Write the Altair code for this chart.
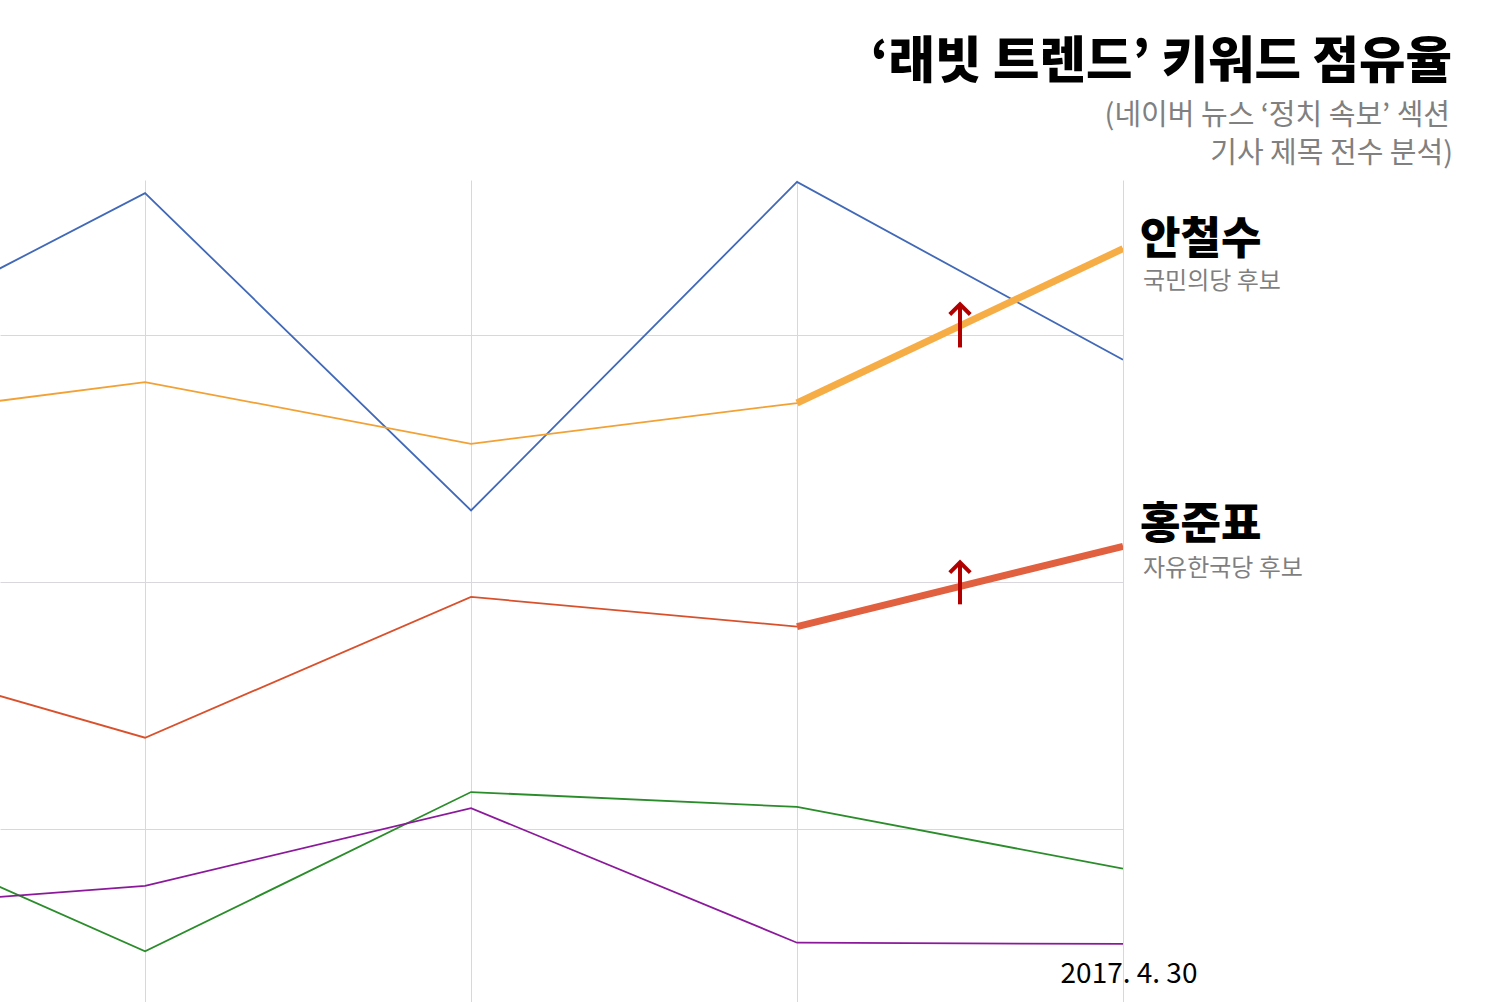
import altair as alt
import pandas as pd

# ---- data ----
periods = [0, 1, 2, 3, 4]
series_names = ["문재인", "안철수", "홍준표", "유승민", "심상정"]
blue = [28.9, 35.75, 22.9, 36.2, 29.0]
orange = [26.4, 28.1, 25.6, 27.25, 33.5]
red = [17.5, 13.7, 19.4, 18.2, 21.45]
green = [10.9, 5.05, 11.5, 10.9, 8.4]
purple = [6.7, 7.7, 10.85, 5.4, 5.35]
line_colors = ["#4169B8", "#F2A134", "#D9512C", "#2A8C2A", "#8B1A9B"]

thick_names = ["안철수", "홍준표"]
thick_colors = ["#F7AD45", "#E0603F"]

arrow_x = [3.5, 3.5]
arrow_y0 = [29.5, 19.1]
arrow_y1 = [31.25, 20.8]

label_names = ["안철수", "홍준표"]
label_subs = ["국민의당 후보", "자유한국당 후보"]

title_text = "‘래빗 트렌드’ 키워드 점유율"
subtitle_lines = ["(네이버 뉴스 ‘정치 속보’ 섹션", "기사 제목 전수 분석)"]
date_text = "2017. 4. 30"

FONT = "Noto Sans CJK KR"

# ---- tables ----
all_vals = [blue, orange, red, green, purple]
rows = []
for name, vals in zip(series_names, all_vals):
    for p, v in zip(periods, vals):
        rows.append({"series": name, "period": p, "value": v})
df = pd.DataFrame(rows)

thick_rows = []
for name in thick_names:
    vals = all_vals[series_names.index(name)]
    for p in periods[3:]:
        thick_rows.append({"series": name, "period": p, "value": vals[p]})
df_thick = pd.DataFrame(thick_rows)

df_arrow = pd.DataFrame({"x": arrow_x, "y0": arrow_y0, "y1": arrow_y1})

df_label = pd.DataFrame({
    "name": label_names,
    "sub": label_subs,
    "period": [periods[-1]] * 2,
    "value": [all_vals[series_names.index(n)][-1] for n in label_names],
})

xscale = alt.Scale(domain=[0.555, 4.0], nice=False, zero=False)
yscale = alt.Scale(domain=[3.0, 36.28], nice=False, zero=False)

xax = alt.Axis(values=[1, 2, 3, 4], grid=True, labels=False, ticks=False,
               domain=False, title=None, gridColor="#D9D6DE", gridWidth=1)
yax = alt.Axis(values=[10, 20, 30], grid=True, labels=False, ticks=False,
               domain=False, title=None, gridColor="#D9D6DE", gridWidth=1)

base_lines = alt.Chart(df).mark_line(clip=True, strokeWidth=1.8).encode(
    x=alt.X("period:Q", scale=xscale, axis=xax),
    y=alt.Y("value:Q", scale=yscale, axis=yax),
    color=alt.Color("series:N", scale=alt.Scale(domain=series_names, range=line_colors), legend=None),
    detail="series:N",
)

thick = alt.Chart(df_thick).mark_line(clip=True, strokeWidth=7, strokeCap="butt").encode(
    x=alt.X("period:Q", scale=xscale),
    y=alt.Y("value:Q", scale=yscale),
    color=alt.Color("series:N", scale=alt.Scale(domain=thick_names, range=thick_colors), legend=None),
    detail="series:N",
)

shaft = alt.Chart(df_arrow).mark_rule(color="#B00000", strokeWidth=4).encode(
    x=alt.X("x:Q", scale=xscale),
    y=alt.Y("y0:Q", scale=yscale),
    y2="y1:Q",
)
head = alt.Chart(df_arrow).mark_point(
    shape="M-1,1L0,0L1,1", size=420, filled=False, color="#B00000",
    strokeWidth=4, opacity=1,
).encode(
    x=alt.X("x:Q", scale=xscale),
    y=alt.Y("y1:Q", scale=yscale),
)

label_layers = []
name_dy = [5, -7]
sub_dy = [40, 30]
for i, n in enumerate(label_names):
    src = alt.Chart(df_label).transform_filter(alt.datum.name == n)
    label_layers.append(src.mark_text(
        align="left", baseline="alphabetic", font=FONT, fontSize=44,
        fontWeight=900, color="#000000", dx=17, dy=name_dy[i],
    ).encode(
        x=alt.X("period:Q", scale=xscale),
        y=alt.Y("value:Q", scale=yscale),
        text="name:N",
    ))
    label_layers.append(src.mark_text(
        align="left", baseline="alphabetic", font=FONT, fontSize=24,
        color="#7F7F7F", dx=20, dy=sub_dy[i],
    ).encode(
        x=alt.X("period:Q", scale=xscale),
        y=alt.Y("value:Q", scale=yscale),
        text="sub:N",
    ))

title = alt.Chart(pd.DataFrame({"t": [title_text]})).mark_text(
    align="right", baseline="alphabetic", font=FONT, fontSize=50.5,
    fontWeight=900, color="#000000",
).encode(x=alt.value(1452), y=alt.value(-102), text="t:N")

sub1 = alt.Chart(pd.DataFrame({"t": [subtitle_lines[0]]})).mark_text(
    align="right", baseline="alphabetic", font=FONT, fontSize=29, color="#808080",
).encode(x=alt.value(1450), y=alt.value(-55), text="t:N")

sub2 = alt.Chart(pd.DataFrame({"t": [subtitle_lines[1]]})).mark_text(
    align="right", baseline="alphabetic", font=FONT, fontSize=29, color="#808080",
).encode(x=alt.value(1453), y=alt.value(-17), text="t:N")

date = alt.Chart(pd.DataFrame({"t": [date_text]})).mark_text(
    align="center", baseline="alphabetic", font=FONT, fontSize=28, color="#000000",
).encode(x=alt.value(1129), y=alt.value(803), text="t:N")

chart = alt.layer(
    base_lines, thick, shaft, head, *label_layers, title, sub1, sub2, date
).resolve_scale(color="independent").properties(
    width=1123, height=822,
    padding={"left": 0, "top": 180, "right": 389, "bottom": 0},
    autosize=alt.AutoSizeParams(type="none"),
    background="#FFFFFF",
).configure_view(stroke=None)

chart.save("out.html", embed_options={"renderer": "svg", "actions": False})
